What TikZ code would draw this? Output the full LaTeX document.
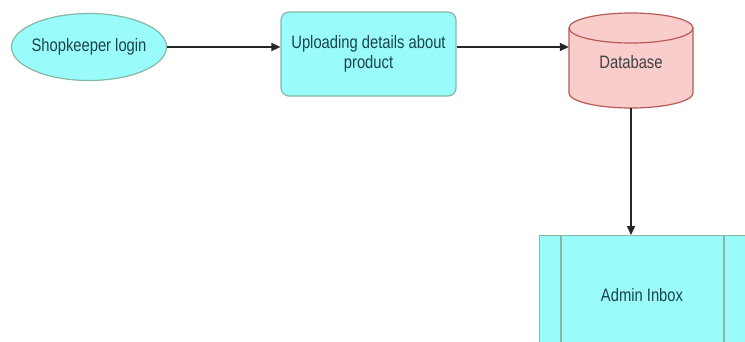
\documentclass[tikz,border=0pt]{standalone}
\usepackage{fontspec}
\setmainfont{Liberation Sans}[FakeStretch=0.82]
\usetikzlibrary{arrows.meta,shapes.geometric}
\definecolor{boxcyan}{HTML}{9AFBFB}
\definecolor{cyanedge}{HTML}{86B8A6}
\definecolor{dbfill}{HTML}{F8CDCB}
\definecolor{dbedge}{HTML}{B85A56}
\definecolor{labeltext}{HTML}{1A4548}
\tikzset{
  x=1pt, y=-1pt,
  flowarrow/.style={draw=black!85, line width=1.4pt, -{Triangle[length=9pt,width=8pt]}},
  labelfont/.style={font=\fontsize{18}{20}\selectfont, text=labeltext, align=center},
  actor/.style={ellipse, draw=cyanedge, fill=boxcyan, line width=1.2pt, minimum width=155pt, minimum height=67pt, inner sep=-5pt, labelfont},
  process/.style={rectangle, rounded corners=8pt, draw=cyanedge, fill=boxcyan, line width=1.2pt, minimum width=175pt, minimum height=84pt, inner sep=0pt, labelfont},
  store/.style={rectangle, minimum width=124pt, minimum height=96pt, inner sep=0pt},
  inbox/.style={rectangle, draw=cyanedge, fill=boxcyan, line width=1.2pt, labelfont}
}
\begin{document}
\begin{tikzpicture}
\useasboundingbox (0,0) rectangle (745,341);
\clip (0,0) rectangle (745,341);
\fill[white] (0,0) rectangle (745,341);

% shopkeeper entry point
\node[actor] (sk) at (89,47) {Shopkeeper login};

% product upload step
\node[process] (up) at (368.5,54) {Uploading details about\\product};

% database cylinder (y axis points down, so arcs run the other way)
\node[store] (db) at (631,60) {};
\filldraw[draw=dbedge, fill=dbfill, line width=1.2pt]
  (569,28) -- (569,93) arc[start angle=180, end angle=0, x radius=62, y radius=15]
  -- (693,28) arc[start angle=0, end angle=-180, x radius=62, y radius=15] -- cycle;
\draw[dbedge, line width=1.2pt] (569,28) arc[start angle=180, end angle=0, x radius=62, y radius=15];
\node[labelfont, text=black!75] (dblabel) at (631,62) {Database};

% admin inbox (predefined process box)
\node[inbox, minimum width=208pt, minimum height=120pt, anchor=north west] (admin) at (539,235) {};
\draw[cyanedge, line width=1.2pt] (561,235) -- (561,360);
\draw[cyanedge, line width=1.2pt] (724,235) -- (724,360);
\node[labelfont] (adminlabel) at (642,295) {Admin Inbox};

% connectors
\draw[flowarrow] (sk.east) -- (sk.east -| up.west);
\draw[flowarrow] (up.east |- sk) -- (sk -| db.west);
\draw[flowarrow] (db.south) -- (admin.north -| db.south);
\end{tikzpicture}
\end{document}
